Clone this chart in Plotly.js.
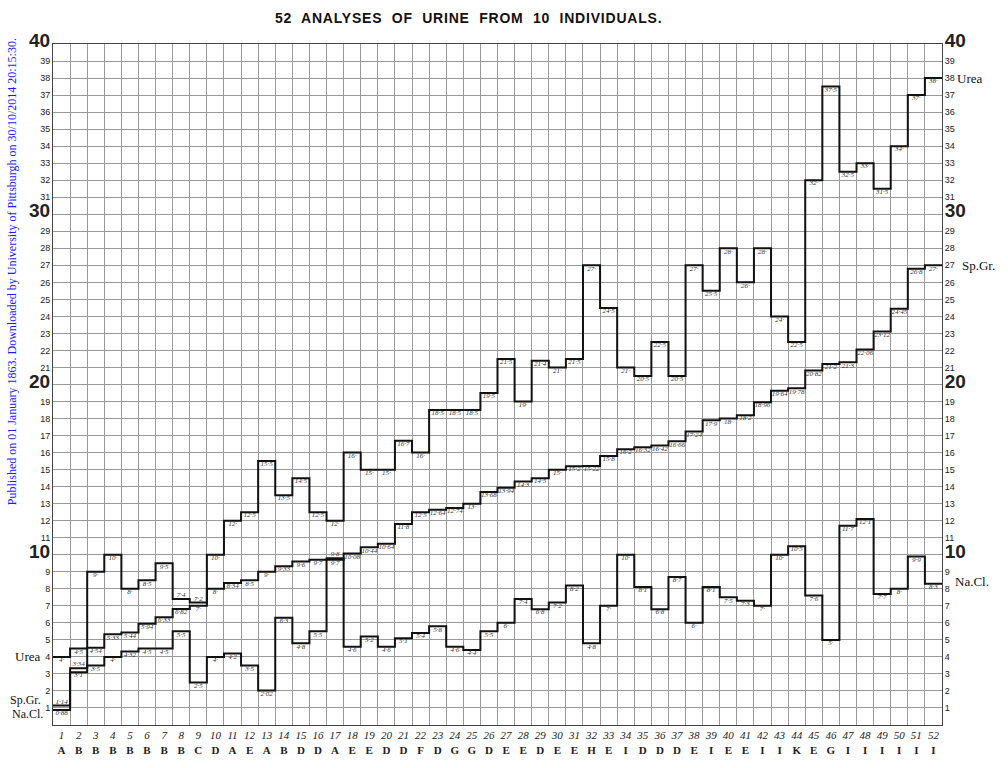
<!DOCTYPE html>
<html>
<head>
<meta charset="utf-8">
<script src="https://cdn.plot.ly/plotly-3.0.1.min.js"></script>
<style>html,body{margin:0;padding:0;background:#fff;}#chart{width:1008px;height:768px;}</style>
</head>
<body>
<div id="chart"></div>
<script>
// ---- data ----
const analyses = Array.from({length: 52}, (_, i) => i + 1);
const individuals = ["A","B","B","B","B","B","B","B","C","D","A","E","A","B","D","D","A","E","E","D",
  "D","F","D","G","G","D","E","E","D","E","E","H","E","I","D","D","D","E","I","E",
  "E","I","I","K","E","G","I","I","I","I","I","I"];
const urea = [4, 4.5, 9, 10, 8, 8.5, 9.5, 7.4, 7.2, 10, 12, 12.5, 15.5, 13.5, 14.5, 12.5, 12, 16, 15, 15,
  16.7, 16, 18.5, 18.5, 18.5, 19.5, 21.5, 19, 21.4, 21, 21.5, 27, 24.5, 21, 20.5, 22.5, 20.5, 27, 25.5, 28,
  26, 28, 24, 22.5, 32, 37.5, 32.5, 33, 31.5, 34, 37, 38];
const spGr = [1.14, 3.34, 4.54, 5.33, 5.44, 5.94, 6.33, 6.82, 7, 8, 8.34, 8.5, 9, 9.33, 9.6, 9.7, 9.7, 10.08, 10.44, 10.64,
  11.8, 12.5, 12.64, 12.74, 13, 13.68, 13.94, 14.3, 14.5, 15, 15.2, 15.22, 15.8, 16.2, 16.32, 16.42, 16.66, 17.24, 17.9, 18,
  18.2, 18.96, 19.64, 19.78, 20.82, 21.2, 21.3, 22.06, 23.12, 24.45, 26.8, 27];
const naCl = [0.88, 3.1, 3.5, 4, 4.32, 4.5, 4.5, 5.5, 2.5, 4, 4.2, 3.5, 2.02, 6.3, 4.8, 5.5, 9.8, 4.6, 5.2, 4.6,
  5.1, 5.4, 5.8, 4.6, 4.4, 5.5, 6.0, 7.4, 6.8, 7.2, 8.2, 4.8, 7, 10, 8.1, 6.8, 8.7, 6, 8.1, 7.5,
  7.3, 7, 10, 10.5, 7.6, 5.0, 11.7, 12.1, 7.7, 8, 9.9, 8.3];
const yTicks = Array.from({length: 40}, (_, i) => i + 1);
// analyses whose value label sits above its line in the reference
const ureaLabelsAbove = [8, 9];
const spGrLabelsAbove = [1, 2];
const naClLabelsAbove = [17];

// ---- helpers ----
const SERIF = "Liberation Serif, DejaVu Serif, serif";
const SANS = "Liberation Sans, Arial, sans-serif";
function stepTrace(vals, name) {
  const x = analyses.map(n => n - 0.5).concat([analyses.length + 0.5]);
  const y = vals.concat([vals[vals.length - 1]]);
  return {x, y, name, type: "scatter", mode: "lines", line: {shape: "hv", color: "#111", width: 2},
    hoverinfo: "skip", showlegend: false};
}
function fmt(v) {
  return Number.isInteger(v) ? v + "·" : String(v).replace(".", "·");
}
function labelTrace(vals, above) {
  return {x: analyses, y: vals, type: "scatter", mode: "text", text: vals.map(fmt),
    textposition: analyses.map(n => above.includes(n) ? "top center" : "bottom center"),
    textfont: {family: SERIF, size: 7, color: "#333", style: "italic"},
    hoverinfo: "skip", showlegend: false, cliponaxis: false};
}
const yText = yTicks.map(v => v % 10 === 0
  ? '<span style="font-size:19px;font-weight:bold">' + v + '</span>' : String(v));
const xText = analyses.map((n, i) => '<i>' + n + '</i><br><b>' + individuals[i] + '</b>');

const data = [
  stepTrace(urea, "Urea"), stepTrace(spGr, "Sp.Gr."), stepTrace(naCl, "Na.Cl."),
  labelTrace(urea, ureaLabelsAbove), labelTrace(spGr, spGrLabelsAbove), labelTrace(naCl, naClLabelsAbove),
  {x: [1], y: [0], yaxis: "y2", type: "scatter", mode: "markers", marker: {opacity: 0}, hoverinfo: "skip", showlegend: false}
];

const gridColor = "#9a9a9a";
const layout = {
  width: 1008, height: 768,
  margin: {l: 53, r: 66, t: 44, b: 43},
  paper_bgcolor: "#fff", plot_bgcolor: "#fff",
  title: {text: '<span style="letter-spacing:0.8px"><b>52  ANALYSES  OF  URINE  FROM  10  INDIVIDUALS.</b></span>',
    x: 0.465, xanchor: "center", y: 0.977, yanchor: "middle", font: {family: SANS, size: 14, color: "#111"}},
  xaxis: {range: [0.5, 52.5], tickmode: "array", tickvals: analyses, ticktext: xText,
    showgrid: false, zeroline: false, ticks: "", showline: true, linecolor: "#444", linewidth: 1, mirror: true,
    tickfont: {family: SERIF, size: 11, color: "#222"}, tickangle: 0,
    minor: {tick0: 0.5, dtick: 1, showgrid: true, gridcolor: gridColor, gridwidth: 1, ticks: ""}},
  yaxis: {range: [0, 40], tickmode: "array", tickvals: yTicks, ticktext: yText,
    showgrid: true, gridcolor: gridColor, gridwidth: 1, zeroline: false, ticks: "",
    showline: true, linecolor: "#444", linewidth: 1,
    tickfont: {family: SANS, size: 9, color: "#222"}},
  yaxis2: {range: [0, 40], overlaying: "y", side: "right", tickmode: "array", tickvals: yTicks, ticktext: yText,
    showgrid: false, zeroline: false, ticks: "", showline: true, linecolor: "#444", linewidth: 1,
    tickfont: {family: SANS, size: 9, color: "#222"}},
  annotations: [
    {text: "Urea", xref: "paper", yref: "y", x: 0, y: 4, xanchor: "right", yanchor: "middle", xshift: -11,
      showarrow: false, font: {family: SERIF, size: 13, color: "#111"}},
    {text: "Sp.Gr.", xref: "paper", yref: "y", x: 0, y: 1.45, xanchor: "right", yanchor: "middle", xshift: -10,
      showarrow: false, font: {family: SERIF, size: 12, color: "#111"}},
    {text: "Na.Cl.", xref: "paper", yref: "y", x: 0, y: 0.65, xanchor: "right", yanchor: "middle", xshift: -8,
      showarrow: false, font: {family: SERIF, size: 12, color: "#111"}},
    {text: "Urea", xref: "paper", yref: "y", x: 1, y: 38, xanchor: "left", yanchor: "middle", xshift: 13,
      showarrow: false, font: {family: SERIF, size: 13, color: "#111"}},
    {text: "Sp.Gr.", xref: "paper", yref: "y", x: 1, y: 27, xanchor: "left", yanchor: "middle", xshift: 18,
      showarrow: false, font: {family: SERIF, size: 13, color: "#111"}},
    {text: "Na.Cl.", xref: "paper", yref: "y", x: 1, y: 8.4, xanchor: "left", yanchor: "middle", xshift: 11,
      showarrow: false, font: {family: SERIF, size: 13, color: "#111"}},
    {text: "Published on 01 January 1863. Downloaded by University of Pittsburgh on 30/10/2014 20:15:30.",
      xref: "paper", yref: "paper", x: 0, y: 0.665, xanchor: "center", yanchor: "middle", xshift: -41,
      textangle: -90, showarrow: false, font: {family: SERIF, size: 12, color: "#1a1aff"}}
  ]
};

Plotly.newPlot("chart", data, layout, {displayModeBar: false, staticPlot: true});
</script>
</body>
</html>
